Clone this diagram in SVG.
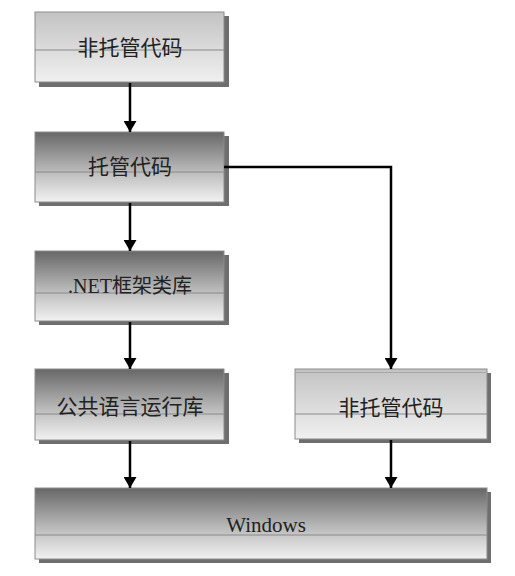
<svg xmlns="http://www.w3.org/2000/svg" width="515" height="576" viewBox="0 0 515 576">
<defs>
<linearGradient id="gDark" x1="0" y1="0" x2="0" y2="1">
<stop offset="0" stop-color="#676767"/>
<stop offset="0.55" stop-color="#b9b9b9"/>
<stop offset="1" stop-color="#f2f2f2"/>
</linearGradient>
<linearGradient id="gLight" x1="0" y1="0" x2="0" y2="1">
<stop offset="0" stop-color="#c3c3c3"/>
<stop offset="1" stop-color="#f0f0f0"/>
</linearGradient>
<marker id="arr" viewBox="0 0 11 13" refX="11" refY="6.5" markerWidth="11" markerHeight="13" markerUnits="userSpaceOnUse" orient="auto">
<path d="M0,0 L11,6.5 L0,13 Z" fill="#000"/>
</marker>
</defs>
<style>
.shadow{fill:#6e6e6e}
.dark{fill:url(#gDark);stroke:#8c8c8c;stroke-width:1}
.light{fill:url(#gLight);stroke:#8c8c8c;stroke-width:1}
.mid{stroke:#8a8a8a;stroke-width:1.2}
.lbl{font-family:"Liberation Serif","Noto Sans CJK SC",serif;font-size:21px;fill:#222;text-anchor:middle;dominant-baseline:central}
.conn{fill:none;stroke:#000;stroke-width:2.5;marker-end:url(#arr)}
</style>
<rect width="515" height="576" fill="#fff"/>
<g id="node-unmanaged-top">
<rect class="shadow" x="39" y="16" width="190" height="71"/>
<rect class="light" x="35" y="12" width="189" height="70"/>
<line class="mid" x1="35" y1="50" x2="224" y2="50"/>
<text class="lbl" x="130" y="48">非托管代码</text>
</g>
<g id="node-managed">
<rect class="shadow" x="39" y="136" width="190" height="70"/>
<rect class="dark" x="35" y="132" width="189" height="70"/>
<line class="mid" x1="35" y1="172" x2="224" y2="172"/>
<text class="lbl" x="130" y="167">托管代码</text>
</g>
<g id="node-netfx">
<rect class="shadow" x="39" y="255" width="190" height="70"/>
<rect class="dark" x="35" y="251" width="189" height="70"/>
<line class="mid" x1="35" y1="293" x2="224" y2="293"/>
<text class="lbl" x="130" y="286" style="font-size:20px">.NET框架类库</text>
</g>
<g id="node-clr">
<rect class="shadow" x="39" y="373" width="190" height="71"/>
<rect class="dark" x="35" y="369" width="189" height="71"/>
<line class="mid" x1="35" y1="414" x2="224" y2="414"/>
<text class="lbl" x="130" y="407">公共语言运行库</text>
</g>
<g id="node-unmanaged-right">
<rect class="shadow" x="299" y="373" width="192" height="70"/>
<rect class="light" x="295" y="369" width="192" height="70"/>
<line x1="296" y1="372.5" x2="486" y2="372.5" stroke="#a8a8a8" stroke-width="1"/>
<line class="mid" x1="295" y1="414" x2="487" y2="414"/>
<text class="lbl" x="391" y="408">非托管代码</text>
</g>
<g id="node-windows">
<rect class="shadow" x="39" y="492" width="452" height="71"/>
<rect class="dark" x="35" y="488" width="452" height="71"/>
<line class="mid" x1="35" y1="535" x2="487" y2="535"/>
<text class="lbl" x="266" y="525">Windows</text>
</g>
<g id="connectors">
<line class="conn" x1="130" y1="83" x2="130" y2="132"/>
<line class="conn" x1="130" y1="203" x2="130" y2="251"/>
<line class="conn" x1="130" y1="322" x2="130" y2="369"/>
<line class="conn" x1="130" y1="441" x2="130" y2="488"/>
<polyline class="conn" points="224,167 391,167 391,369"/>
<line class="conn" x1="391" y1="440" x2="391" y2="488"/>
</g>
</svg>
